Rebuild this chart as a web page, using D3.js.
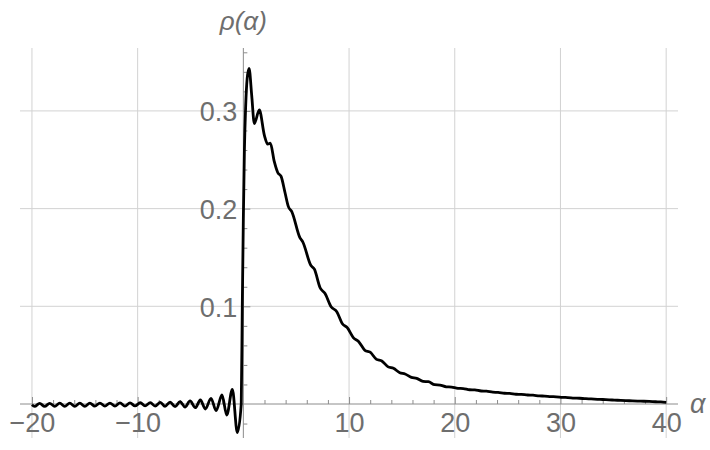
<!DOCTYPE html>
<html>
<head>
<meta charset="utf-8">
<script src="https://cdn.jsdelivr.net/npm/d3@7"></script>
<style>
  body { margin: 0; background: #fff; }
  text { font-family: "Liberation Sans", Arial, sans-serif; }
</style>
</head>
<body>
<script>
// values
const alpha = [
  -20.0, -19.75, -19.27, -18.8, -18.32, -17.85, -17.37, -16.9, -16.42, -15.95,
  -15.47, -15.0, -14.52, -14.05, -13.57, -13.1, -12.62, -12.15, -11.67, -11.2,
  -10.72, -10.25, -9.75, -9.3, -8.8, -8.35, -7.85, -7.41, -6.93, -6.46,
  -5.99, -5.52, -5.04, -4.54, -4.07, -3.59, -3.06, -2.58, -2.02, -1.57,
  -1.04, -0.57, -0.2, -0.1, 0.0, 0.1, 0.22, 0.36, 0.54, 0.79,
  1.04, 1.51, 1.99, 2.31, 2.55, 2.93, 3.25, 3.57, 3.95, 4.26,
  4.58, 5.36, 5.62, 6.38, 6.72, 7.26, 7.73, 8.30, 8.84, 9.35,
  9.85, 10.4, 10.9, 11.5, 12.0, 12.6, 13.1, 13.7, 14.2, 14.8,
  15.3, 15.9, 16.4, 17.0, 17.5, 18.1, 18.6, 19.2, 19.7, 20.3,
  20.8, 21.4, 21.9, 22.5, 23.0, 23.6, 24.1, 24.7, 25.2, 25.8,
  26.3, 26.9, 27.4, 28.0, 28.5, 29.1, 29.6, 30.2, 30.7, 31.3,
  31.8, 32.4, 32.9, 33.5, 34.0, 34.6, 35.1, 35.7, 36.2, 36.8,
  37.3, 37.9, 38.4, 39.0, 39.5, 40.0
];
const rho = [
  -0.0008, -0.0025, 0.0007, -0.0025, 0.0007, -0.0024, 0.0008, -0.0024, 0.0008, -0.0023,
  0.0009, -0.0023, 0.0009, -0.0022, 0.0010, -0.0022, 0.0010, -0.0021, 0.0011, -0.0021,
  0.0012, -0.0020, 0.0013, -0.0020, 0.0014, -0.0021, 0.0017, -0.0024, 0.0020, -0.0027,
  0.0024, -0.0031, 0.0031, -0.0038, 0.0041, -0.0051, 0.0058, -0.0068, 0.0092, -0.0113,
  0.0150, -0.0293, 0.0, 0.10, 0.19, 0.26, 0.305, 0.333, 0.3436, 0.316,
  0.287, 0.301, 0.275, 0.266, 0.267, 0.248, 0.237, 0.233, 0.216, 0.202,
  0.197, 0.170, 0.166, 0.142, 0.138, 0.119, 0.113, 0.0996, 0.0945, 0.0825,
  0.0778, 0.068, 0.064, 0.055, 0.053, 0.0457, 0.044, 0.038, 0.0365, 0.032,
  0.0307, 0.0273, 0.0263, 0.0232, 0.0228, 0.0198, 0.0194, 0.0176, 0.0173, 0.0160,
  0.0158, 0.0146, 0.0144, 0.0133, 0.0131, 0.0121, 0.0119, 0.0110, 0.0108, 0.0100,
  0.0098, 0.0092, 0.0090, 0.0083, 0.0081, 0.0076, 0.0074, 0.0068, 0.0066, 0.0061,
  0.0059, 0.0054, 0.0052, 0.0048, 0.0046, 0.0042, 0.0040, 0.0037, 0.0035, 0.0032,
  0.0030, 0.0028, 0.0026, 0.0023, 0.0021, 0.0017
];
const xMajor = [-20, -10, 10, 20, 30, 40];
const xMinor = [-18, -16, -14, -12, -8, -6, -4, -2, 2, 4, 6, 8, 12, 14, 16, 18, 22, 24, 26, 28, 32, 34, 36, 38];
const yMajor = [0.1, 0.2, 0.3];
const yMinor = [-0.02, 0.02, 0.04, 0.06, 0.08, 0.12, 0.14, 0.16, 0.18, 0.22, 0.24, 0.26, 0.28, 0.32, 0.34, 0.36];

const width = 710, height = 450;
const axisColor = "#8c8c8c", gridColor = "#d2d2d2", labelColor = "#6e6e6e";

const x = d3.scaleLinear().domain([-21.13, 41.12]).range([20, 678]);
const y = d3.scaleLinear().domain([-0.0348, 0.3644]).range([438, 48]);

const svg = d3.select("body").append("svg")
  .attr("width", width)
  .attr("height", height);

// grid lines
const grid = svg.append("g").attr("stroke", gridColor).attr("stroke-width", 1);
grid.selectAll("line.v")
  .data(xMajor)
  .join("line")
  .attr("class", "v")
  .attr("x1", d => x(d)).attr("x2", d => x(d))
  .attr("y1", y.range()[1]).attr("y2", y.range()[0]);
grid.selectAll("line.h")
  .data(yMajor)
  .join("line")
  .attr("class", "h")
  .attr("x1", x.range()[0]).attr("x2", x.range()[1])
  .attr("y1", d => y(d)).attr("y2", d => y(d));

// x axis through rho = 0, ticks pointing up
const fmt = d3.format("");
const xAxisG = svg.append("g").attr("transform", `translate(0,${y(0)})`);
xAxisG.call(d3.axisBottom(x).tickValues(xMinor).tickSize(-4).tickFormat(""));
xAxisG.call(g => g.select(".domain").remove());
const xMajorG = svg.append("g").attr("transform", `translate(0,${y(0)})`)
  .call(d3.axisBottom(x).tickValues(xMajor).tickSizeInner(-7).tickSizeOuter(0).tickPadding(9).tickFormat(fmt));
xMajorG.select(".domain").remove();
svg.append("line")
  .attr("x1", x.range()[0]).attr("x2", x.range()[1])
  .attr("y1", y(0)).attr("y2", y(0))
  .attr("stroke", axisColor);

// y axis through alpha = 0, ticks pointing right
const yAxisG = svg.append("g").attr("transform", `translate(${x(0)},0)`);
yAxisG.call(d3.axisLeft(y).tickValues(yMinor).tickSize(-4).tickFormat(""));
yAxisG.call(g => g.select(".domain").remove());
const yMajorG = svg.append("g").attr("transform", `translate(${x(0)},0)`)
  .call(d3.axisLeft(y).tickValues(yMajor).tickSizeInner(-7).tickSizeOuter(0).tickPadding(8).tickFormat(d3.format(".1f")));
yMajorG.select(".domain").remove();
svg.append("line")
  .attr("x1", x(0)).attr("x2", x(0))
  .attr("y1", y.range()[1]).attr("y2", y.range()[0])
  .attr("stroke", axisColor);

svg.selectAll(".tick line").attr("stroke", axisColor);
svg.selectAll(".tick text")
  .attr("fill", labelColor)
  .style("font-size", "27px")
  .style("font-family", "'Liberation Sans', Arial, sans-serif");
yMajorG.selectAll(".tick text").attr("x", -6).attr("dy", "0.36em");

// curve
const pts = alpha.map((a, i) => [a, rho[i]]);
const line = d3.line()
  .x(d => x(d[0]))
  .y(d => y(d[1]))
  .curve(d3.curveMonotoneX);
svg.append("path")
  .datum(pts)
  .attr("fill", "none")
  .attr("stroke", "#000")
  .attr("stroke-width", 2.8)
  .attr("stroke-linejoin", "round")
  .attr("d", line);

// axis labels
svg.append("text")
  .attr("x", x(0))
  .attr("y", 30)
  .attr("text-anchor", "middle")
  .attr("fill", labelColor)
  .style("font-size", "26px")
  .style("font-style", "italic")
  .text("ρ(α)");
svg.append("text")
  .attr("x", 690)
  .attr("y", 413)
  .attr("fill", labelColor)
  .style("font-size", "27px")
  .style("font-style", "italic")
  .text("α");
</script>
</body>
</html>
